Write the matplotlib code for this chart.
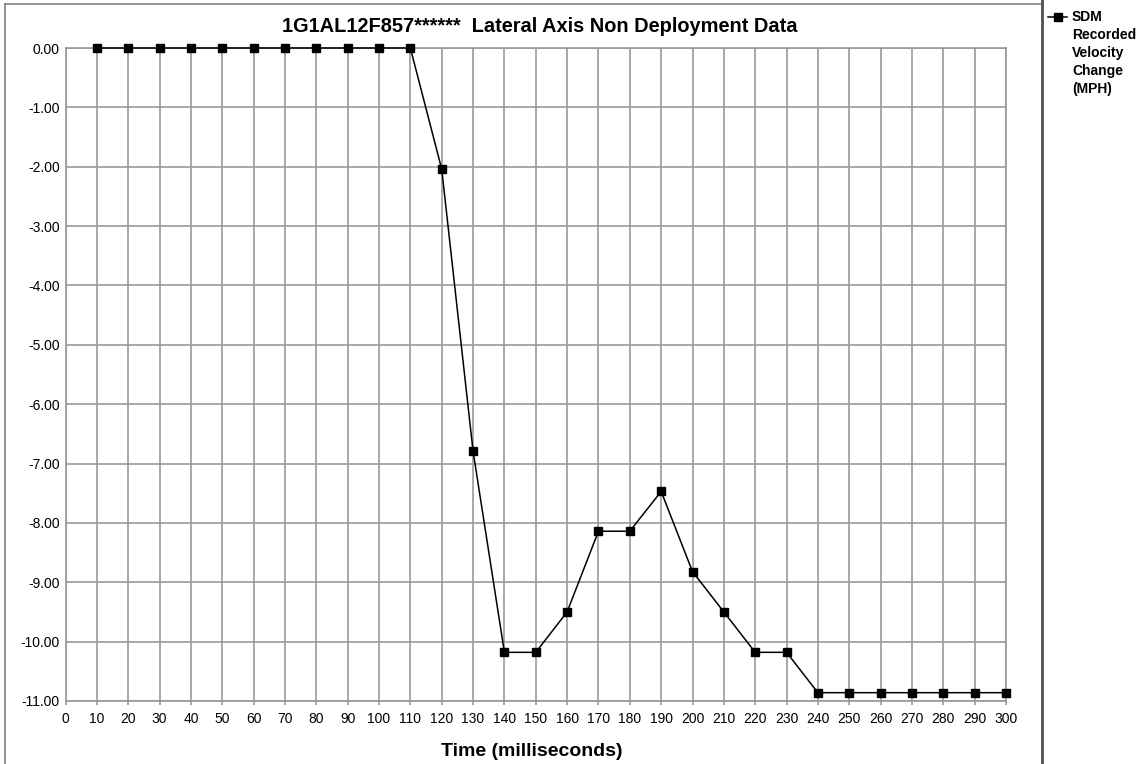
import numpy as np
import matplotlib as mpl
mpl.use('Agg')
from matplotlib import pyplot as plt
from matplotlib.lines import Line2D

# data: SDM recorded lateral velocity change (MPH) vs time (ms)
time_ms = [10, 20, 30, 40, 50, 60, 70, 80, 90, 100, 110, 120, 130, 140, 150,
           160, 170, 180, 190, 200, 210, 220, 230, 240, 250, 260, 270, 280, 290, 300]
delta_v = [0.00, 0.00, 0.00, 0.00, 0.00, 0.00, 0.00, 0.00, 0.00, 0.00, 0.00,
           -2.04, -6.79, -10.18, -10.18, -9.50, -8.14, -8.14, -7.47, -8.82,
           -9.50, -10.18, -10.18, -10.86, -10.86, -10.86, -10.86, -10.86, -10.86, -10.86]
series_label = 'SDM\nRecorded\nVelocity\nChange\n(MPH)'
title_txt = '1G1AL12F857******  Lateral Axis Non Deployment Data'
xlabel_txt = 'Time (milliseconds)'

plt.rcParams['font.family'] = ['Liberation Sans', 'DejaVu Sans']

W, H = 1138, 764
fig = plt.figure(figsize=(W/100, H/100), dpi=100)
ax = fig.add_axes([65.5/W, 1-701/H, 940.5/W, 653/H])

grid_c = '#9a9a9a'
ax.plot(time_ms, delta_v, color='black', lw=1.1, marker='s', ms=6,
        mfc='black', mec='black', zorder=3, clip_on=False)

ax.set_xlim(0, 300)
ax.set_ylim(-11, 0)
ax.set_xticks(np.arange(0, 301, 10))
ax.set_yticks(np.arange(-11, 0.1, 1))
ax.yaxis.set_major_formatter(mpl.ticker.FormatStrFormatter('%.2f'))
ax.grid(True, color=grid_c, lw=1.2)
ax.set_axisbelow(True)
for sp in ax.spines.values():
    sp.set_color(grid_c)
    sp.set_linewidth(1.2)
ax.tick_params(axis='both', colors=grid_c, labelcolor='black', labelsize=10,
               width=1.2)
ax.tick_params(axis='x', length=3, pad=5)
ax.tick_params(axis='y', length=0, pad=4)

fig.text(540/W, 1-27/H, title_txt, ha='center', va='center',
         fontsize=14.4, fontweight='bold')
fig.text(532/W, 1-751/H, xlabel_txt, ha='center', va='center',
         fontsize=14, fontweight='bold')

# outer frame lines
fig.add_artist(Line2D([5/W, 5/W], [0, 1-4/H], color='#808080', lw=1.2))
fig.add_artist(Line2D([5/W, 1042/W], [1-4/H, 1-4/H], color='#808080', lw=1.2))
fig.add_artist(Line2D([1042/W, 1042/W], [0, 1], color='#505050', lw=2))

# legend
fig.add_artist(Line2D([1048/W, 1067/W], [1-17/H, 1-17/H], color='black', lw=1.1))
fig.add_artist(Line2D([1058/W], [1-17/H], color='black', marker='s', ms=6))
fig.text(1072/W, 1-10/H, series_label, ha='left', va='top', fontsize=10,
         fontweight='bold', linespacing=1.37)

fig.savefig('out.png', dpi=100)
